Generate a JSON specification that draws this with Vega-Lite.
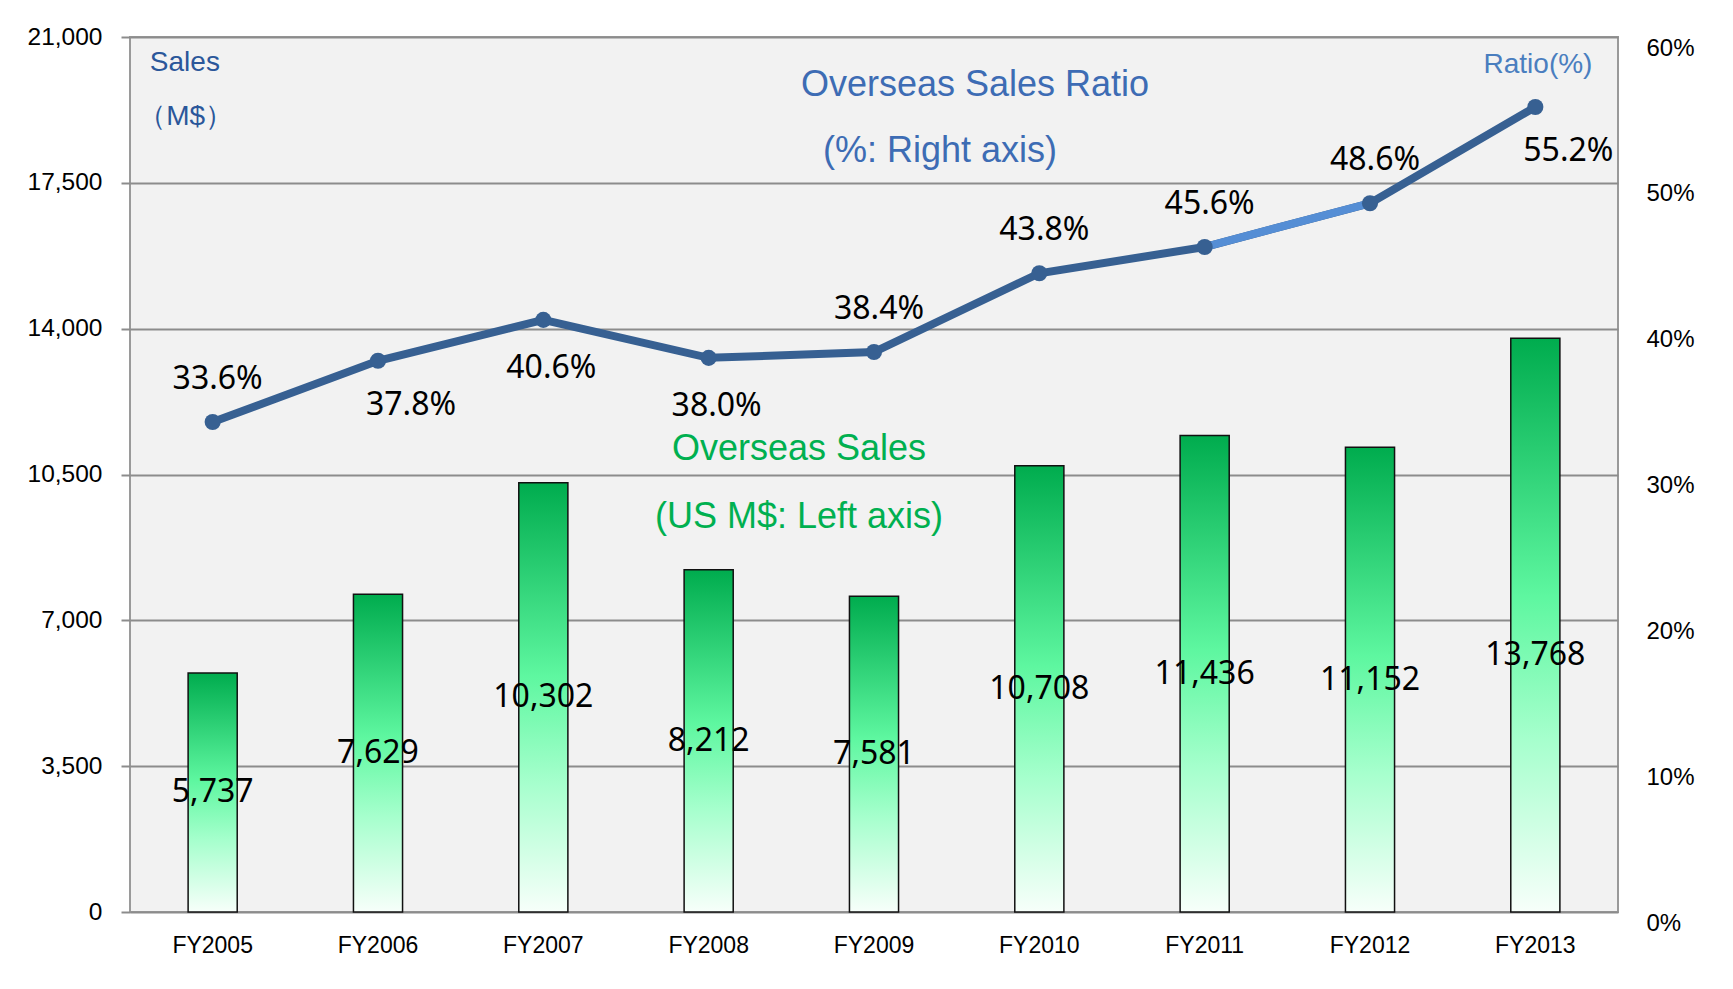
{
  "$schema": "https://vega.github.io/schema/vega-lite/v6.json",
  "width": 1488,
  "height": 875,
  "autosize": {"type": "none"},
  "padding": {"left": 130, "top": 37, "right": 115, "bottom": 77},
  "background": "white",
  "config": {"view": {"fill": "#F2F2F2", "stroke": "#9A9A9A", "strokeWidth": 2}},
  "datasets": {
    "sales": [
      {"year": "FY2005", "sales": 5737, "ratio": 0.336},
      {"year": "FY2006", "sales": 7629, "ratio": 0.378},
      {"year": "FY2007", "sales": 10302, "ratio": 0.406},
      {"year": "FY2008", "sales": 8212, "ratio": 0.380},
      {"year": "FY2009", "sales": 7581, "ratio": 0.384},
      {"year": "FY2010", "sales": 10708, "ratio": 0.438},
      {"year": "FY2011", "sales": 11436, "ratio": 0.456},
      {"year": "FY2012", "sales": 11152, "ratio": 0.486},
      {"year": "FY2013", "sales": 13768, "ratio": 0.552}
    ],
    "notes": [
      {"group": "corner", "label": "Sales", "x": 0.12, "y": 20376},
      {"group": "corner", "label": "（M$）", "x": 0.05, "y": 19080},
      {"group": "ratio", "label": "Ratio(%)", "x": 8.516, "y": 20328},
      {"group": "blue", "label": "Overseas Sales Ratio", "x": 5.111, "y": 19848},
      {"group": "blue", "label": "(%: Right axis)", "x": 4.899, "y": 18264},
      {"group": "green", "label": "Overseas Sales", "x": 4.046, "y": 11112},
      {"group": "green", "label": "(US M$: Left axis)", "x": 4.046, "y": 9480}
    ]
  },
  "layer": [
    {
      "data": {"name": "sales"},
      "mark": {
        "type": "bar",
        "width": {"band": 0.297},
        "stroke": "#111111",
        "strokeWidth": 1.5,
        "fill": {
          "gradient": "linear", "x1": 0, "y1": 0, "x2": 0, "y2": 1,
          "stops": [
            {"offset": 0, "color": "#00AC4E"},
            {"offset": 0.45, "color": "#5EF7A0"},
            {"offset": 0.7, "color": "#A6FFCD"},
            {"offset": 1, "color": "#F7FFFA"}
          ]
        }
      },
      "encoding": {
        "x": {
          "field": "year", "type": "nominal", "sort": null,
          "scale": {"type": "band", "paddingInner": 0, "paddingOuter": 0, "domain": ["FY2005","FY2006","FY2007","FY2008","FY2009","FY2010","FY2011","FY2012","FY2013"]},
          "axis": {"title": null, "labelAngle": 0, "ticks": false, "domain": false, "grid": false, "labelFont": "Liberation Sans", "labelFontSize": 23, "labelColor": "#000000", "labelPadding": 22, "labelDx": -12}
        },
        "y": {
          "field": "sales", "type": "quantitative",
          "scale": {"domain": [0, 21000], "nice": false},
          "axis": {"title": null, "values": [0, 3500, 7000, 10500, 14000, 17500, 21000], "format": ",.0f", "grid": true, "gridColor": "#8C8C8C", "gridWidth": 2, "domain": false, "tickColor": "#8C8C8C", "tickSize": 9, "tickWidth": 2, "labelFont": "Liberation Sans", "labelFontSize": 24.5, "labelColor": "#000000", "labelPadding": 19, "labelFlush": false}
        }
      }
    },
    {
      "data": {"name": "sales"},
      "transform": [{"filter": "datum.year != 'FY2013'"}],
      "mark": {"type": "text", "font": "Noto Sans", "fontSize": 32, "color": "#000000", "baseline": "middle"},
      "encoding": {
        "x": {"field": "year", "type": "nominal", "sort": null, "scale": {"type": "band", "paddingInner": 0, "paddingOuter": 0, "domain": ["FY2005","FY2006","FY2007","FY2008","FY2009","FY2010","FY2011","FY2012","FY2013"]}, "axis": null},
        "y": {"field": "sales", "type": "quantitative", "scale": {"domain": [0, 42000], "nice": false}, "axis": null},
        "text": {"field": "sales", "type": "quantitative", "format": ",.0f"}
      }
    },
    {
      "data": {"name": "sales"},
      "transform": [{"filter": "datum.year == 'FY2013'"}],
      "mark": {"type": "text", "font": "Noto Sans", "fontSize": 32, "color": "#000000", "baseline": "middle", "dy": 30},
      "encoding": {
        "x": {"field": "year", "type": "nominal", "sort": null, "scale": {"type": "band", "paddingInner": 0, "paddingOuter": 0, "domain": ["FY2005","FY2006","FY2007","FY2008","FY2009","FY2010","FY2011","FY2012","FY2013"]}, "axis": null},
        "y": {"field": "sales", "type": "quantitative", "scale": {"domain": [0, 42000], "nice": false}, "axis": null},
        "text": {"field": "sales", "type": "quantitative", "format": ",.0f"}
      }
    },
    {
      "data": {"name": "sales"},
      "mark": {"type": "line", "color": "#376092", "strokeWidth": 8},
      "encoding": {
        "x": {"field": "year", "type": "nominal", "sort": null, "scale": {"type": "band", "paddingInner": 0, "paddingOuter": 0, "domain": ["FY2005","FY2006","FY2007","FY2008","FY2009","FY2010","FY2011","FY2012","FY2013"]}, "axis": null},
        "y": {
          "field": "ratio", "type": "quantitative",
          "scale": {"domain": [0, 0.6], "nice": false},
          "axis": {"orient": "right", "title": null, "values": [0, 0.1, 0.2, 0.3, 0.4, 0.5, 0.6], "format": ".0%", "grid": false, "ticks": false, "domain": false, "labelFont": "Liberation Sans", "labelFontSize": 24, "labelColor": "#000000", "labelPadding": 28, "labelAlign": "left", "labelOffset": 11, "labelFlush": false}
        }
      }
    },
    {
      "data": {"name": "sales"},
      "transform": [{"filter": {"field": "year", "oneOf": ["FY2011", "FY2012"]}}],
      "mark": {"type": "line", "color": "#558ED5", "strokeWidth": 8},
      "encoding": {
        "x": {"field": "year", "type": "nominal", "sort": null, "scale": {"type": "band", "paddingInner": 0, "paddingOuter": 0, "domain": ["FY2005","FY2006","FY2007","FY2008","FY2009","FY2010","FY2011","FY2012","FY2013"]}, "axis": null},
        "y": {"field": "ratio", "type": "quantitative", "scale": {"domain": [0, 0.6], "nice": false}, "axis": null}
      }
    },
    {
      "data": {"name": "sales"},
      "mark": {"type": "point", "filled": true, "size": 260, "color": "#376092", "opacity": 1},
      "encoding": {
        "x": {"field": "year", "type": "nominal", "sort": null, "scale": {"type": "band", "paddingInner": 0, "paddingOuter": 0, "domain": ["FY2005","FY2006","FY2007","FY2008","FY2009","FY2010","FY2011","FY2012","FY2013"]}, "axis": null},
        "y": {"field": "ratio", "type": "quantitative", "scale": {"domain": [0, 0.6], "nice": false}, "axis": null}
      }
    },
    {
      "data": {"name": "sales"},
      "transform": [{"filter": {"field": "year", "oneOf": ["FY2005", "FY2009", "FY2010", "FY2011", "FY2012"]}}],
      "mark": {"type": "text", "font": "Noto Sans", "fontSize": 32, "color": "#000000", "baseline": "middle", "dy": -43, "dx": 5},
      "encoding": {
        "x": {"field": "year", "type": "nominal", "sort": null, "scale": {"type": "band", "paddingInner": 0, "paddingOuter": 0, "domain": ["FY2005","FY2006","FY2007","FY2008","FY2009","FY2010","FY2011","FY2012","FY2013"]}, "axis": null},
        "y": {"field": "ratio", "type": "quantitative", "scale": {"domain": [0, 0.6], "nice": false}, "axis": null},
        "text": {"field": "ratio", "type": "quantitative", "format": ".1%"}
      }
    },
    {
      "data": {"name": "sales"},
      "transform": [{"filter": {"field": "year", "oneOf": ["FY2007", "FY2008"]}}],
      "mark": {"type": "text", "font": "Noto Sans", "fontSize": 32, "color": "#000000", "baseline": "middle", "dy": 48, "dx": 8},
      "encoding": {
        "x": {"field": "year", "type": "nominal", "sort": null, "scale": {"type": "band", "paddingInner": 0, "paddingOuter": 0, "domain": ["FY2005","FY2006","FY2007","FY2008","FY2009","FY2010","FY2011","FY2012","FY2013"]}, "axis": null},
        "y": {"field": "ratio", "type": "quantitative", "scale": {"domain": [0, 0.6], "nice": false}, "axis": null},
        "text": {"field": "ratio", "type": "quantitative", "format": ".1%"}
      }
    },
    {
      "data": {"name": "sales"},
      "transform": [{"filter": {"field": "year", "oneOf": ["FY2006", "FY2013"]}}],
      "mark": {"type": "text", "font": "Noto Sans", "fontSize": 32, "color": "#000000", "baseline": "middle", "dy": 44, "dx": 33},
      "encoding": {
        "x": {"field": "year", "type": "nominal", "sort": null, "scale": {"type": "band", "paddingInner": 0, "paddingOuter": 0, "domain": ["FY2005","FY2006","FY2007","FY2008","FY2009","FY2010","FY2011","FY2012","FY2013"]}, "axis": null},
        "y": {"field": "ratio", "type": "quantitative", "scale": {"domain": [0, 0.6], "nice": false}, "axis": null},
        "text": {"field": "ratio", "type": "quantitative", "format": ".1%"}
      }
    },
    {
      "data": {"name": "notes"},
      "transform": [{"filter": "datum.group == 'corner'"}],
      "mark": {"type": "text", "font": "Liberation Sans", "fontSize": 28, "color": "#2B579A", "align": "left", "baseline": "middle"},
      "encoding": {
        "x": {"field": "x", "type": "quantitative", "scale": {"domain": [0, 9], "nice": false, "zero": false}, "axis": null},
        "y": {"field": "y", "type": "quantitative", "scale": {"domain": [0, 21000], "nice": false}, "axis": null},
        "text": {"field": "label"}
      }
    },
    {
      "data": {"name": "notes"},
      "transform": [{"filter": "datum.group == 'ratio'"}],
      "mark": {"type": "text", "font": "Liberation Sans", "fontSize": 28, "color": "#4A7EBF", "align": "center", "baseline": "middle"},
      "encoding": {
        "x": {"field": "x", "type": "quantitative", "scale": {"domain": [0, 9], "nice": false, "zero": false}, "axis": null},
        "y": {"field": "y", "type": "quantitative", "scale": {"domain": [0, 21000], "nice": false}, "axis": null},
        "text": {"field": "label"}
      }
    },
    {
      "data": {"name": "notes"},
      "transform": [{"filter": "datum.group == 'blue'"}],
      "mark": {"type": "text", "font": "Liberation Sans", "fontSize": 36, "color": "#3D6CB4", "align": "center", "baseline": "middle"},
      "encoding": {
        "x": {"field": "x", "type": "quantitative", "scale": {"domain": [0, 9], "nice": false, "zero": false}, "axis": null},
        "y": {"field": "y", "type": "quantitative", "scale": {"domain": [0, 21000], "nice": false}, "axis": null},
        "text": {"field": "label"}
      }
    },
    {
      "data": {"name": "notes"},
      "transform": [{"filter": "datum.group == 'green'"}],
      "mark": {"type": "text", "font": "Liberation Sans", "fontSize": 36, "color": "#00B050", "align": "center", "baseline": "middle"},
      "encoding": {
        "x": {"field": "x", "type": "quantitative", "scale": {"domain": [0, 9], "nice": false, "zero": false}, "axis": null},
        "y": {"field": "y", "type": "quantitative", "scale": {"domain": [0, 21000], "nice": false}, "axis": null},
        "text": {"field": "label"}
      }
    }
  ],
  "resolve": {"scale": {"x": "independent", "y": "independent"}}
}
